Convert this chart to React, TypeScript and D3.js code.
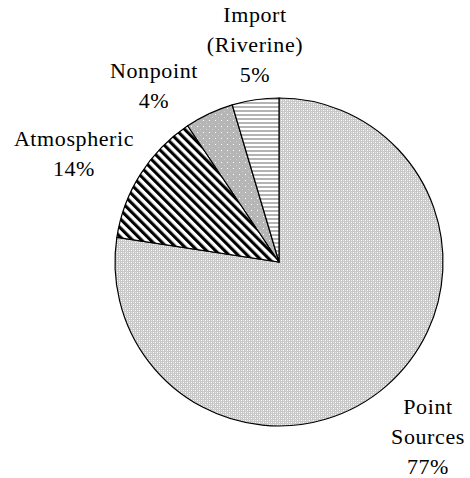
import React from "react";
import * as d3 from "d3";

const categories = ["Point Sources", "Atmospheric", "Nonpoint", "Import (Riverine)"];
const values = [77.4, 13.2, 4.8, 4.6];
const labelLines = [["Point", "Sources", "77%"], ["Atmospheric", "14%"], ["Nonpoint", "4%"], ["Import", "(Riverine)", "5%"]];
const patternIds = ["pPoint", "pAtmo", "pNonpoint", "pImport"];

const W = 470, H = 478;
const cx = 279, cy = 262, R = 164;
const labelPos: [number, number][] = [[428, 414], [74, 146], [154, 78], [255, 22]];
const lineH = 30;

export default function App() {
  const pie = d3.pie<number>().sort(null).value((d) => d)(values);
  const arc = d3.arc<d3.PieArcDatum<number>>().innerRadius(0).outerRadius(R);
  return (
    <svg width={W} height={H} style={{ position: "absolute", left: 0, top: 0, background: "#fff" }}>
      <defs>
        <pattern id="pPoint" width={4} height={4} patternUnits="userSpaceOnUse">
          <rect width={4} height={4} fill="#c8c8c8" />
          <rect x={0} y={0} width={1} height={1} fill="#ffffff" />
          <rect x={2} y={2} width={1} height={1} fill="#ffffff" />
          <rect x={2} y={0} width={1} height={1} fill="#e4e4e4" />
          <rect x={0} y={2} width={1} height={1} fill="#e4e4e4" />
        </pattern>
        <pattern id="pAtmo" width={6.4} height={10} patternUnits="userSpaceOnUse" patternTransform="rotate(-45)">
          <rect width={6.4} height={10} fill="#ffffff" />
          <rect width={3.1} height={10} fill="#000000" />
        </pattern>
        <pattern id="pNonpoint" width={6} height={6} patternUnits="userSpaceOnUse">
          <rect width={6} height={6} fill="#b6b6b6" />
          <rect x={2} y={2} width={1} height={1} fill="#ffffff" />
          <rect x={5} y={5} width={1} height={1} fill="#cfcfcf" />
        </pattern>
        <pattern id="pImport" width={4} height={4} patternUnits="userSpaceOnUse">
          <rect width={4} height={4} fill="#ffffff" />
          <rect y={0} width={4} height={2} fill="#b4b4b4" />
        </pattern>
      </defs>
      <g transform={`translate(${cx},${cy})`}>
        {pie.map((d, i) => (
          <path key={categories[i]} d={arc(d) || ""} fill={`url(#${patternIds[i]})`} stroke="#000" strokeWidth={1.2} />
        ))}
      </g>
      {labelLines.map((lines, i) => (
        <text key={i} x={labelPos[i][0]} y={labelPos[i][1]} textAnchor="middle"
          fontFamily="'Liberation Serif', 'Times New Roman', serif" fontSize={22} letterSpacing={0.6} fill="#000">
          {lines.map((l, j) => (
            <tspan key={j} x={labelPos[i][0]} y={labelPos[i][1] + j * lineH}>{l}</tspan>
          ))}
        </text>
      ))}
    </svg>
  );
}
